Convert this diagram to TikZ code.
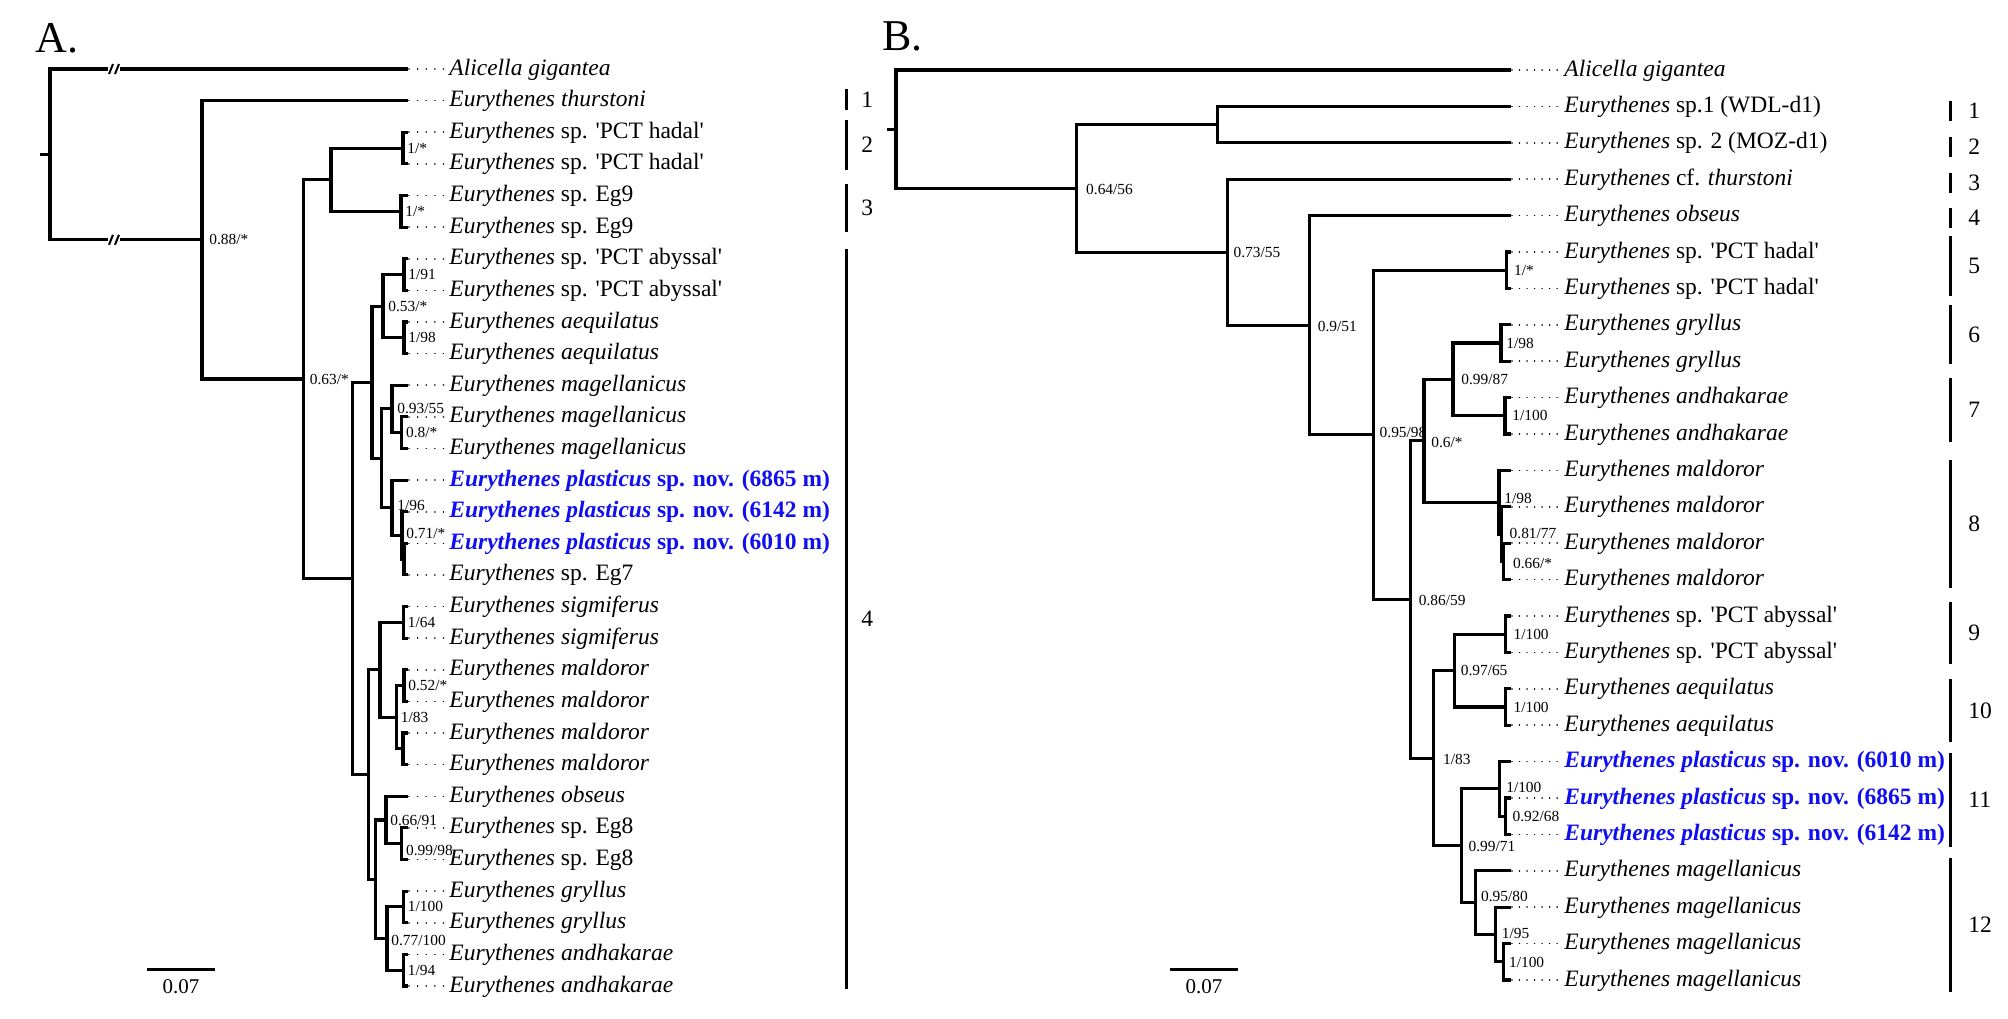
\documentclass[tikz,border=0pt]{standalone}
\usepackage{fontspec}
\setmainfont{Liberation Serif}[Ligatures=TeXOff]
\usetikzlibrary{calc}
\definecolor{nblue}{RGB}{15,15,240}
\newcommand\Eu{\textit{Eurythenes}}
\newcommand\Pl[1]{\textcolor{nblue}{\bfseries\textit{Eurythenes plasticus} sp. nov. (#1 m)}}
\tikzset{
 br/.style={line width=1.55pt, line cap=rect},
 dotA/.style={line width=0.8pt, line cap=round, dash pattern=on 0.01pt off 4.3pt, shorten <=1.5pt, shorten >=1.5pt},
 dotB/.style={line width=0.8pt, line cap=round, dash pattern=on 0.01pt off 3.75pt, shorten <=1.5pt, shorten >=1.5pt},
 tax/.style={anchor=base west, inner sep=0pt, font=\fontsize{11.75}{14}\selectfont},
 bs/.style={anchor=west, inner sep=0pt, font=\fontsize{7.7}{9}\selectfont},
 cbar/.style={line width=1.5pt},
 cnum/.style={anchor=west, inner sep=0pt, font=\fontsize{11.75}{14}\selectfont},
 snum/.style={inner sep=0pt, font=\fontsize{10.5}{12}\selectfont},
 panel/.style={anchor=base west, inner sep=0pt, font=\fontsize{22}{26}\selectfont},
}
\newcommand\leafA[4]{\coordinate (#1) at (406,#2);
 \node[tax] (#1t) at (449,#2+6) {#4};
 \draw[br] (#3) |- (#1);
 \draw[dotA] (#1) -- (#1t.west |- #1);}
\newcommand\leafB[4]{\coordinate (#1) at (1509,#2);
 \node[tax] (#1t) at (1564,#2+6) {#4};
 \draw[br] (#3) |- (#1);
 \draw[dotB] (#1) -- (#1t.west |- #1);}
\newcommand\edge[2]{\draw[br] (#1) |- (#2);}
\newcommand\lab[5]{\node[bs] (#1) at ($(#2)+(#3,#4)$) {#5};}
\newcommand\cbar[6]{\coordinate (#1a) at (#2,#3); \coordinate (#1b) at (#2,#4);
 \draw[cbar] (#1a) -- (#1b); \node[cnum] (#1n) at (#6,{(#3+#4)/2}) {#5};}
\begin{document}
\begin{tikzpicture}[x=0.5pt,y=-0.5pt]
\useasboundingbox (0,0) rectangle (2008,1018);
\node[panel] (pA) at (35,52) {A.};
\node[panel] (pB) at (882,50) {B.};
% ---------------- Panel A internal nodes
\coordinate (rootA) at (50,154.4);
\coordinate (rootAs) at (42,154.4);
\coordinate (n088) at (202,239.8);
\coordinate (n063) at (303.5,379.0);
\coordinate (aHE) at (331,179.7);
\coordinate (aH) at (403,148.05);
\coordinate (aE9) at (401,211.3);
\coordinate (aBig) at (352.6,578.4);
\coordinate (aUp) at (372,382.2);
\coordinate (aAA) at (383,306.15);
\coordinate (aAb) at (404,274.5);
\coordinate (aAq) at (404,337.8);
\coordinate (aMP) at (381.4,458.3);
\coordinate (aMg) at (392,408.9);
\coordinate (aMg2) at (401.7,432.6);
\coordinate (aP1) at (392,507.75);
\coordinate (aP2) at (402,535.4);
\coordinate (aP3) at (404,559.1);
\coordinate (aLow) at (368.4,774.5);
\coordinate (aSM) at (380,669.8);
\coordinate (aSg) at (403.5,622.35);
\coordinate (aMal) at (396.5,717.2);
\coordinate (aM1) at (404,685.6);
\coordinate (aM2) at (403,748.8);
\coordinate (aOG) at (375.4,879.3);
\coordinate (aOb) at (386,820);
\coordinate (aE8) at (401.7,843.7);
\coordinate (aGA) at (387,938.55);
\coordinate (aGr) at (403.5,906.9);
\coordinate (aAn) at (403.5,970.2);
\draw[br] (rootAs) -- (rootA);
\edge{rootA}{n088}
\edge{n088}{n063}
\edge{n063}{aHE} \edge{n063}{aBig}
\edge{aHE}{aH} \edge{aHE}{aE9}
\edge{aBig}{aUp} \edge{aBig}{aLow}
\edge{aUp}{aAA} \edge{aUp}{aMP}
\edge{aAA}{aAb} \edge{aAA}{aAq}
\edge{aMP}{aMg} \edge{aMP}{aP1}
\edge{aMg}{aMg2}
\edge{aP1}{aP2} \edge{aP2}{aP3}
\edge{aLow}{aSM} \edge{aLow}{aOG}
\edge{aSM}{aSg} \edge{aSM}{aMal}
\edge{aMal}{aM1} \edge{aMal}{aM2}
\edge{aOG}{aOb} \edge{aOG}{aGA}
\edge{aOb}{aE8}
\edge{aGA}{aGr} \edge{aGA}{aAn}
% leaves A
\leafA{aL0}{69.0}{rootA}{\textit{Alicella gigantea}}
\leafA{aL1}{100.6}{n088}{\textit{Eurythenes thurstoni}}
\leafA{aL2}{132.2}{aH}{\Eu{} sp. 'PCT hadal'}
\leafA{aL3}{163.9}{aH}{\Eu{} sp. 'PCT hadal'}
\leafA{aL4}{195.5}{aE9}{\Eu{} sp. Eg9}
\leafA{aL5}{227.1}{aE9}{\Eu{} sp. Eg9}
\leafA{aL6}{258.7}{aAb}{\Eu{} sp. 'PCT abyssal'}
\leafA{aL7}{290.3}{aAb}{\Eu{} sp. 'PCT abyssal'}
\leafA{aL8}{322.0}{aAq}{\textit{Eurythenes aequilatus}}
\leafA{aL9}{353.6}{aAq}{\textit{Eurythenes aequilatus}}
\leafA{aL10}{385.2}{aMg}{\textit{Eurythenes magellanicus}}
\leafA{aL11}{416.8}{aMg2}{\textit{Eurythenes magellanicus}}
\leafA{aL12}{448.4}{aMg2}{\textit{Eurythenes magellanicus}}
\leafA{aL13}{480.1}{aP1}{\Pl{6865}}
\leafA{aL14}{511.7}{aP2}{\Pl{6142}}
\leafA{aL15}{543.3}{aP3}{\Pl{6010}}
\leafA{aL16}{574.9}{aP3}{\Eu{} sp. Eg7}
\leafA{aL17}{606.5}{aSg}{\textit{Eurythenes sigmiferus}}
\leafA{aL18}{638.2}{aSg}{\textit{Eurythenes sigmiferus}}
\leafA{aL19}{669.8}{aM1}{\textit{Eurythenes maldoror}}
\leafA{aL20}{701.4}{aM1}{\textit{Eurythenes maldoror}}
\leafA{aL21}{733.0}{aM2}{\textit{Eurythenes maldoror}}
\leafA{aL22}{764.6}{aM2}{\textit{Eurythenes maldoror}}
\leafA{aL23}{796.3}{aOb}{\textit{Eurythenes obseus}}
\leafA{aL24}{827.9}{aE8}{\Eu{} sp. Eg8}
\leafA{aL25}{859.5}{aE8}{\Eu{} sp. Eg8}
\leafA{aL26}{891.1}{aGr}{\textit{Eurythenes gryllus}}
\leafA{aL27}{922.7}{aGr}{\textit{Eurythenes gryllus}}
\leafA{aL28}{954.4}{aAn}{\textit{Eurythenes andhakarae}}
\leafA{aL29}{986.0}{aAn}{\textit{Eurythenes andhakarae}}
% break marks
\foreach \yy in {69,239.8} {
 \fill[white] (108,\yy-6) rectangle (120,\yy+6);
 \draw[line width=1pt] (109,\yy+5) -- (113,\yy-5) (115,\yy+5) -- (119,\yy-5);
}
% support A
\lab{la1}{n088}{7}{0}{0.88/*}
\lab{la2}{n063}{6}{0}{0.63/*}
\lab{la3}{aH}{4}{0}{1/*}
\lab{la4}{aE9}{4}{0}{1/*}
\lab{la5}{aAb}{4}{0}{1/91}
\lab{la6}{aAA}{5}{0}{0.53/*}
\lab{la7}{aAq}{4}{0}{1/98}
\lab{la8}{aMg}{5}{0}{0.93/55}
\lab{la9}{aMg2}{4}{0}{0.8/*}
\lab{la10}{aP1}{5}{-2}{1/96}
\lab{la11}{aP2}{4}{-2}{0.71/*}
\lab{la12}{aSg}{4}{0}{1/64}
\lab{la13}{aM1}{4}{0}{0.52/*}
\lab{la14}{aMal}{4}{0}{1/83}
\lab{la15}{aOb}{4}{0}{0.66/91}
\lab{la16}{aE8}{4}{7}{0.99/98}
\lab{la17}{aGr}{4}{0}{1/100}
\lab{la18}{aGA}{4}{2}{0.77/100}
\lab{la19}{aAn}{4}{0}{1/94}
% clade bars A
\cbar{ca1}{846.5}{89}{110}{1}{861}
\cbar{ca2}{846.5}{120}{170}{2}{861}
\cbar{ca3}{846.5}{184}{232}{3}{861}
\cbar{ca4}{846.5}{249}{989}{4}{861}
% scale A
\coordinate (sA1) at (147,969); \coordinate (sA2) at (215,969);
\draw[cbar] (sA1) -- (sA2);
\node[snum] (sAl) at (181,986.5) {0.07};
% ---------------- Panel B internal nodes
\coordinate (rB) at (896,129.2);
\coordinate (rBs) at (889,129.2);
\coordinate (b064) at (1076.8,188.4);
\coordinate (bS12) at (1217.4,124.6);
\coordinate (b073) at (1227.2,252.2);
\coordinate (b09) at (1309.5,325.3);
\coordinate (b095) at (1373.3,434.9);
\coordinate (bHd) at (1506.7,270.2);
\coordinate (b086) at (1410.5,599.6);
\coordinate (b06) at (1424,440.9);
\coordinate (bGA) at (1453,379.4);
\coordinate (bGr) at (1501,343);
\coordinate (bAn) at (1505,415.8);
\coordinate (bM1) at (1499,502.3);
\coordinate (bM2) at (1501.3,534.1);
\coordinate (bM3) at (1503.7,561.4);
\coordinate (b183) at (1433.7,758.2);
\coordinate (b097) at (1454.4,670.6);
\coordinate (bAb) at (1505.2,634.2);
\coordinate (bAq) at (1505.2,707);
\coordinate (b0971) at (1461.2,845.8);
\coordinate (bP1) at (1499.9,788.9);
\coordinate (bP2) at (1505.2,816.2);
\coordinate (bMg1) at (1475.7,902.7);
\coordinate (bMg2) at (1495.5,934.5);
\coordinate (bMg3) at (1503.7,961.8);
\draw[br] (rBs) -- (rB);
\edge{rB}{b064}
\edge{b064}{bS12} \edge{b064}{b073}
\edge{b073}{b09}
\edge{b09}{b095}
\edge{b095}{bHd} \edge{b095}{b086}
\edge{b086}{b06} \edge{b086}{b183}
\edge{b06}{bGA} \edge{b06}{bM1}
\edge{bGA}{bGr} \edge{bGA}{bAn}
\edge{bM1}{bM2} \edge{bM2}{bM3}
\edge{b183}{b097} \edge{b183}{b0971}
\edge{b097}{bAb} \edge{b097}{bAq}
\edge{b0971}{bP1} \edge{b0971}{bMg1}
\edge{bP1}{bP2}
\edge{bMg1}{bMg2} \edge{bMg2}{bMg3}
% leaves B
\leafB{bL0}{70}{rB}{\textit{Alicella gigantea}}
\leafB{bL1}{106.4}{bS12}{\Eu{} sp.1 (WDL-d1)}
\leafB{bL2}{142.8}{bS12}{\Eu{} sp. 2 (MOZ-d1)}
\leafB{bL3}{179.2}{b073}{\Eu{} cf. \textit{thurstoni}}
\leafB{bL4}{215.6}{b09}{\textit{Eurythenes obseus}}
\leafB{bL5}{252}{bHd}{\Eu{} sp. 'PCT hadal'}
\leafB{bL6}{288.4}{bHd}{\Eu{} sp. 'PCT hadal'}
\leafB{bL7}{324.8}{bGr}{\textit{Eurythenes gryllus}}
\leafB{bL8}{361.2}{bGr}{\textit{Eurythenes gryllus}}
\leafB{bL9}{397.6}{bAn}{\textit{Eurythenes andhakarae}}
\leafB{bL10}{434}{bAn}{\textit{Eurythenes andhakarae}}
\leafB{bL11}{470.4}{bM1}{\textit{Eurythenes maldoror}}
\leafB{bL12}{506.8}{bM2}{\textit{Eurythenes maldoror}}
\leafB{bL13}{543.2}{bM3}{\textit{Eurythenes maldoror}}
\leafB{bL14}{579.6}{bM3}{\textit{Eurythenes maldoror}}
\leafB{bL15}{616}{bAb}{\Eu{} sp. 'PCT abyssal'}
\leafB{bL16}{652.4}{bAb}{\Eu{} sp. 'PCT abyssal'}
\leafB{bL17}{688.8}{bAq}{\textit{Eurythenes aequilatus}}
\leafB{bL18}{725.2}{bAq}{\textit{Eurythenes aequilatus}}
\leafB{bL19}{761.6}{bP1}{\Pl{6010}}
\leafB{bL20}{798}{bP2}{\Pl{6865}}
\leafB{bL21}{834.4}{bP2}{\Pl{6142}}
\leafB{bL22}{870.8}{bMg1}{\textit{Eurythenes magellanicus}}
\leafB{bL23}{907.2}{bMg2}{\textit{Eurythenes magellanicus}}
\leafB{bL24}{943.6}{bMg3}{\textit{Eurythenes magellanicus}}
\leafB{bL25}{980}{bMg3}{\textit{Eurythenes magellanicus}}
% support B
\lab{lb1}{b064}{9}{1}{0.64/56}
\lab{lb2}{b073}{6}{0}{0.73/55}
\lab{lb3}{b09}{8}{1}{0.9/51}
\lab{lb4}{b095}{6}{-2}{0.95/98}
\lab{lb5}{bHd}{7}{0}{1/*}
\lab{lb6}{bGA}{8}{0}{0.99/87}
\lab{lb7}{bGr}{5}{0}{1/98}
\lab{lb8}{bAn}{7}{0}{1/100}
\lab{lb9}{b06}{7}{2}{0.6/*}
\lab{lb10}{bM1}{5}{-4}{1/98}
\lab{lb11}{bM2}{8}{-1}{0.81/77}
\lab{lb12}{bM3}{9}{2}{0.66/*}
\lab{lb13}{b086}{8}{1}{0.86/59}
\lab{lb14}{b097}{6}{0}{0.97/65}
\lab{lb15}{bAb}{8}{0}{1/100}
\lab{lb16}{bAq}{8}{0}{1/100}
\lab{lb17}{b183}{9}{1}{1/83}
\lab{lb18}{bP1}{6}{-1}{1/100}
\lab{lb19}{bP2}{7}{0}{0.92/68}
\lab{lb20}{b0971}{7}{1}{0.99/71}
\lab{lb21}{bMg1}{5}{-6}{0.95/80}
\lab{lb22}{bMg2}{6}{-1}{1/95}
\lab{lb23}{bMg3}{5}{1}{1/100}
% clade bars B
\cbar{cb1}{1950.8}{101}{121}{1}{1968}
\cbar{cb2}{1950.8}{137}{157}{2}{1968}
\cbar{cb3}{1950.8}{173}{193}{3}{1968}
\cbar{cb4}{1950.8}{208}{228}{4}{1968}
\cbar{cb5}{1950.8}{236}{296}{5}{1968}
\cbar{cb6}{1950.8}{305}{364}{6}{1968}
\cbar{cb7}{1950.8}{378}{442}{7}{1968}
\cbar{cb8}{1950.8}{460}{588}{8}{1968}
\cbar{cb9}{1950.8}{602}{664}{9}{1968}
\cbar{cb10}{1950.8}{679}{742}{10}{1968}
\cbar{cb11}{1950.8}{753}{847}{11}{1968}
\cbar{cb12}{1950.8}{858}{992}{12}{1968}
% scale B
\coordinate (sB1) at (1170,969); \coordinate (sB2) at (1238,969);
\draw[cbar] (sB1) -- (sB2);
\node[snum] (sBl) at (1204,986.5) {0.07};
\end{tikzpicture}
\end{document}
